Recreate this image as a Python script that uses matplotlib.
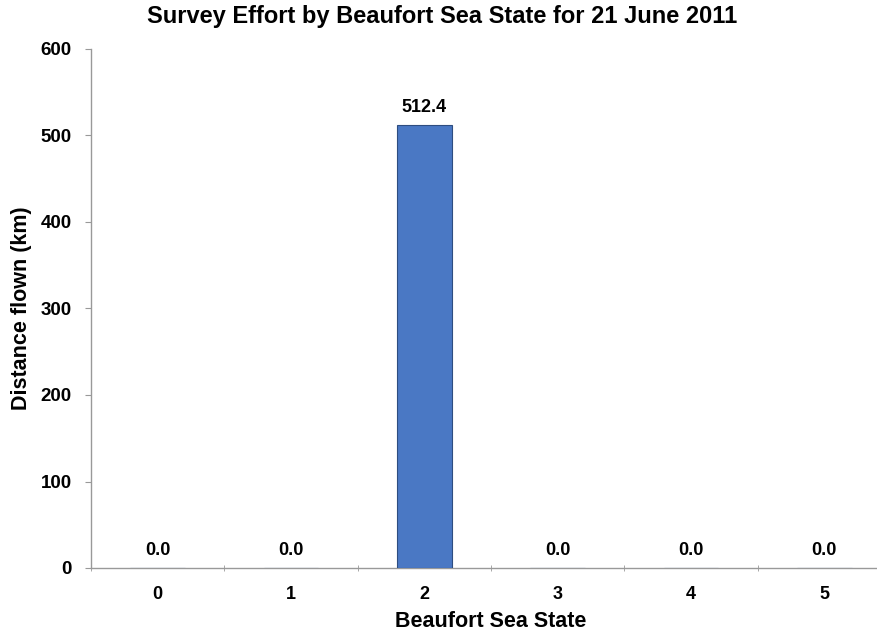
import matplotlib
matplotlib.use("Agg")
import matplotlib.pyplot as plt
import numpy as np

categories = ["0", "1", "2", "3", "4", "5"]
distances = [0.0, 0.0, 512.4, 0.0, 0.0, 0.0]
yticks = [0, 100, 200, 300, 400, 500, 600]

plt.rcParams['font.family'] = ['Liberation Sans', 'DejaVu Sans']

fig = plt.figure(figsize=(8.77, 6.4), dpi=100)
ax = fig.add_axes([91/877, 1-568/640, (891-91)/877, (568-49)/640])

x = np.arange(len(categories))
bars = ax.bar(x, distances, width=0.41, color="#4a78c4", edgecolor="#2e4d80", linewidth=0.8, zorder=3)
for xi, v in zip(x, distances):
    ax.text(xi, v + 10, f"{v:.1f}", ha="center", va="bottom", fontsize=13, fontweight="bold")

ax.set_xlim(-0.5, len(categories) - 0.5)
ax.set_ylim(0, 600)
ax.set_yticks(yticks)
ax.set_yticklabels([str(t) for t in yticks], fontsize=13.5, fontweight="bold")
ax.set_xticks(x)
ax.set_xticklabels(categories, fontsize=13, fontweight="bold")
ax.set_xticks(np.arange(-0.5, len(categories), 1), minor=True)
ax.tick_params(axis="x", which="major", length=0, pad=13)
ax.tick_params(axis="x", which="minor", length=4, direction="inout", color="#999999")
ax.tick_params(axis="y", length=4, direction="out", color="#999999", pad=10)

for s in ["top", "right"]:
    ax.spines[s].set_visible(False)
for s in ["left", "bottom"]:
    ax.spines[s].set_color("#999999")
    ax.spines[s].set_linewidth(1.0)

ax.set_ylabel("Distance flown (km)", fontsize=15.5, fontweight="bold")
ax.set_xlabel("Beaufort Sea State", fontsize=15.5, fontweight="bold")
ax.yaxis.set_label_coords(-0.074, 0.5)
ax.xaxis.set_label_coords(0.5, -0.083)
fig.text(442/877, 1-17/640, "Survey Effort by Beaufort Sea State for 21 June 2011",
         ha="center", va="center", fontsize=17, fontweight="bold")

fig.savefig("out.png", dpi=100)
